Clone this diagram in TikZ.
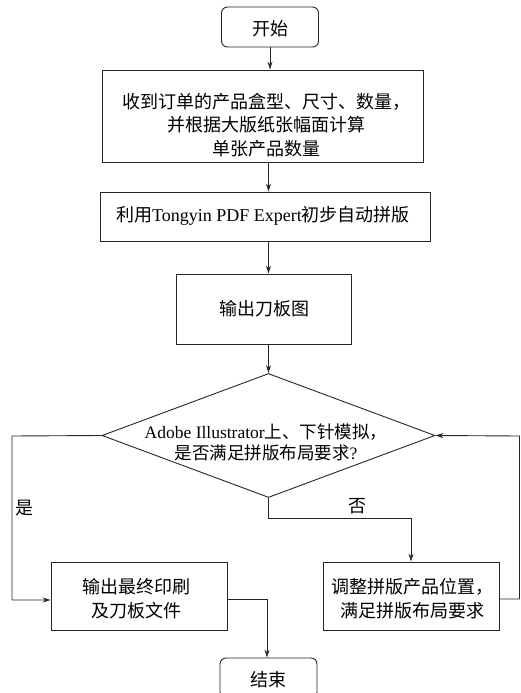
\documentclass[tikz,border=0pt]{standalone}
\usepackage{fontspec}
\setmainfont{Liberation Serif}
\newfontfamily\cjk{Noto Sans CJK SC}
\usetikzlibrary{arrows.meta,shapes.geometric}
\begin{document}
\begin{tikzpicture}[x=1pt,y=-1pt,
  line width=0.9pt,
  every node/.style={font=\fontsize{18}{23.5}\selectfont\cjk, text=black},
  boxnode/.style={draw=black!85, rectangle, inner sep=0pt},
  termnode/.style={draw=black!85, rectangle, rounded corners=6pt, inner sep=0pt, minimum width=97pt, minimum height=40pt},
  txt/.style={align=center, inner sep=0pt},
  arr/.style={draw=black!85, -{Stealth[length=8pt,width=5pt]}},
  ln/.style={draw=black!85}]
\clip (0,0) rectangle (520,693);
\useasboundingbox (0,0) rectangle (520,693);
% nodes
\node[termnode] (start) at (270,27) {};
\node[txt] (tstart) at (270,29) {开始};
\node[boxnode, minimum width=321pt, minimum height=92pt] (b1) at (262.5,116) {};
\node[txt] (tb1) at (266,125) {收到订单的产品盒型、尺寸、数量，\\并根据大版纸张幅面计算\\单张产品数量};
\node[boxnode, minimum width=330pt, minimum height=49pt] (b2) at (265,216.5) {};
\node[txt] (tb2) at (263,216) {利用{\rmfamily Tongyin PDF Expert}初步自动拼版};
\node[boxnode, minimum width=175pt, minimum height=70pt] (b3) at (263.5,309) {};
\node[txt] (tb3) at (264,308.5) {输出刀板图};
\node[draw=black!85, diamond, inner sep=0pt, minimum width=333pt, minimum height=124pt] (dia) at (268.5,435.5) {};
\node[txt, font=\fontsize{17.5}{21}\selectfont\cjk] (tdia) at (266,442) {{\rmfamily Adobe Illustrator}上、下针模拟，\\是否满足拼版布局要求{\rmfamily ?}};
\node[boxnode, minimum width=176pt, minimum height=68pt] (fin) at (139,596) {};
\node[txt] (tfin) at (136,598.5) {输出最终印刷\\及刀板文件};
\node[boxnode, minimum width=176pt, minimum height=68pt] (adj) at (411,596) {};
\node[txt] (tadj) at (412,598.5) {调整拼版产品位置，\\满足拼版布局要求};
\node[termnode] (end) at (268.5,678) {};
\node[txt] (tend) at (268.5,679.5) {结束};
\node[txt] (yes) at (25,508) {是};
\node[txt] (no) at (357,506) {否};
% helper coordinates
\coordinate (lcorner) at (12,436);
\coordinate (lbottom) at (12,600);
\coordinate (nocorner) at (268.5,518);
\coordinate (rout) at (519.5,599);
\coordinate (rtop) at (519.5,436);
\coordinate (fout) at (267,599);
% connectors
\draw[arr] (start.south) -- (start.south |- b1.north);
\draw[arr] (b1.south -| dia.north) -- (b2.north -| dia.north);
\draw[arr] (b2.south -| dia.north) -- (b3.north -| dia.north);
\draw[arr] (b3.south -| dia.north) -- (dia.north);
\draw[arr] (dia.west) -- (lcorner) -- (lbottom) -- (lbottom -| fin.west);
\draw[arr] (dia.south) -- (nocorner) -- (nocorner -| adj.north) -- (adj.north);
\draw[arr] (rout -| adj.east) -- (rout) -- (rtop) -- (dia.east);
\draw[arr] (fout -| fin.east) -- (fout) -- (fout |- end.north);
\end{tikzpicture}
\end{document}
